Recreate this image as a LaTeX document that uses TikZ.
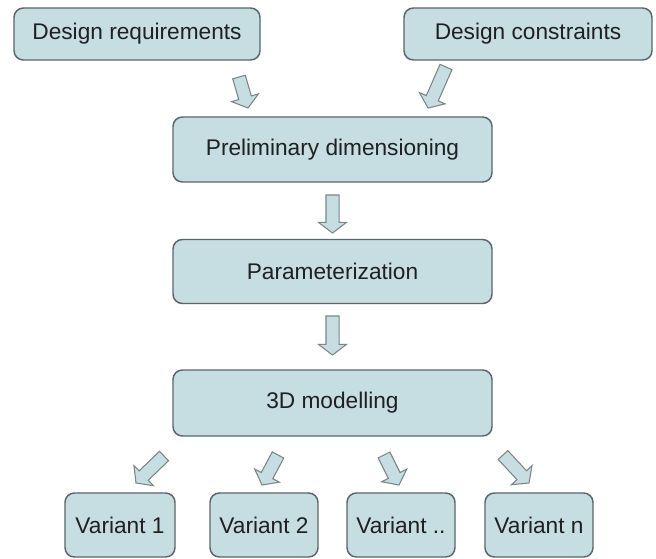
\documentclass[tikz,border=0pt]{standalone}
\usepackage{fontspec}
\setmainfont{Liberation Sans}
\usetikzlibrary{calc}
\definecolor{boxfill}{RGB}{198,222,226}
\definecolor{boxline}{RGB}{92,102,104}
\definecolor{txt}{RGB}{30,32,34}
\newcommand{\blockarr}[2]{%
  \path let \p1=(#1), \p2=(#2), \n1={atan2(\y2-\y1,\x2-\x1)}, \n2={veclen(\x2-\x1,\y2-\y1)} in
    [barrow]
    ($(\p1)+(\n1+90:4.9pt)$)
    -- ($(\p1)+(\n1+90:4.9pt)+(\n1:\n2-8pt)$)
    -- ($(\p1)+(\n1+90:10.5pt)+(\n1:\n2-8pt)$)
    -- (\p2)
    -- ($(\p1)+(\n1-90:10.5pt)+(\n1:\n2-8pt)$)
    -- ($(\p1)+(\n1-90:4.9pt)+(\n1:\n2-8pt)$)
    -- ($(\p1)+(\n1-90:4.9pt)$) -- cycle;}
\begin{document}
\begin{tikzpicture}[x=0.75pt,y=-0.75pt,
  box/.style={draw=boxline, fill=boxfill, rounded corners=7pt, line width=1.1pt,
    font=\fontsize{17}{20}\selectfont, text=txt, inner sep=0pt, minimum height=#1},
  box/.default=39pt,
  barrow/.style={draw=boxline!80, fill=boxfill, line width=0.8pt, line join=miter}]
\fill[white] (0,0) rectangle (656,558);
\useasboundingbox (0,0) rectangle (656,558);

\node[box, minimum width=184.5pt] (req) at (137,34) {Design requirements};
\node[box, minimum width=186pt] (con) at (528,34) {Design constraints};
\node[box=48.75pt, minimum width=239.25pt] (pre) at (332.5,149.5) {Preliminary dimensioning};
\node[box=48pt, minimum width=239.25pt] (par) at (332.5,271.5) {Parameterization};
\node[box=49.5pt, minimum width=239.25pt] (mod) at (332.5,403) {3D modelling};
\node[box=48pt, minimum width=82.5pt] (v1) at (120,525) {Variant 1};
\node[box=48pt, minimum width=81pt] (v2) at (264,525) {Variant 2};
\node[box=48pt, minimum width=81pt] (v3) at (401,525) {Variant ..};
\node[box=48pt, minimum width=81pt] (vn) at (539,525) {Variant n};

\coordinate (a1s) at (239,77);   \coordinate (a1e) at (248,108);
\coordinate (a2s) at (446,67);   \coordinate (a2e) at (428,108);
\coordinate (a3s) at (332.5,195); \coordinate (a3e) at (332.5,233);
\coordinate (a4s) at (332.5,316); \coordinate (a4e) at (332.5,355);
\coordinate (b1s) at (164,456);  \coordinate (b1e) at (136,483);
\coordinate (b2s) at (278,455);  \coordinate (b2e) at (262,485);
\coordinate (b3s) at (384,455);  \coordinate (b3e) at (399,485);
\coordinate (b4s) at (503,455);  \coordinate (b4e) at (529,483);

\blockarr{a1s}{a1e}
\blockarr{a2s}{a2e}
\blockarr{a3s}{a3e}
\blockarr{a4s}{a4e}
\blockarr{b1s}{b1e}
\blockarr{b2s}{b2e}
\blockarr{b3s}{b3e}
\blockarr{b4s}{b4e}
\end{tikzpicture}
\end{document}
